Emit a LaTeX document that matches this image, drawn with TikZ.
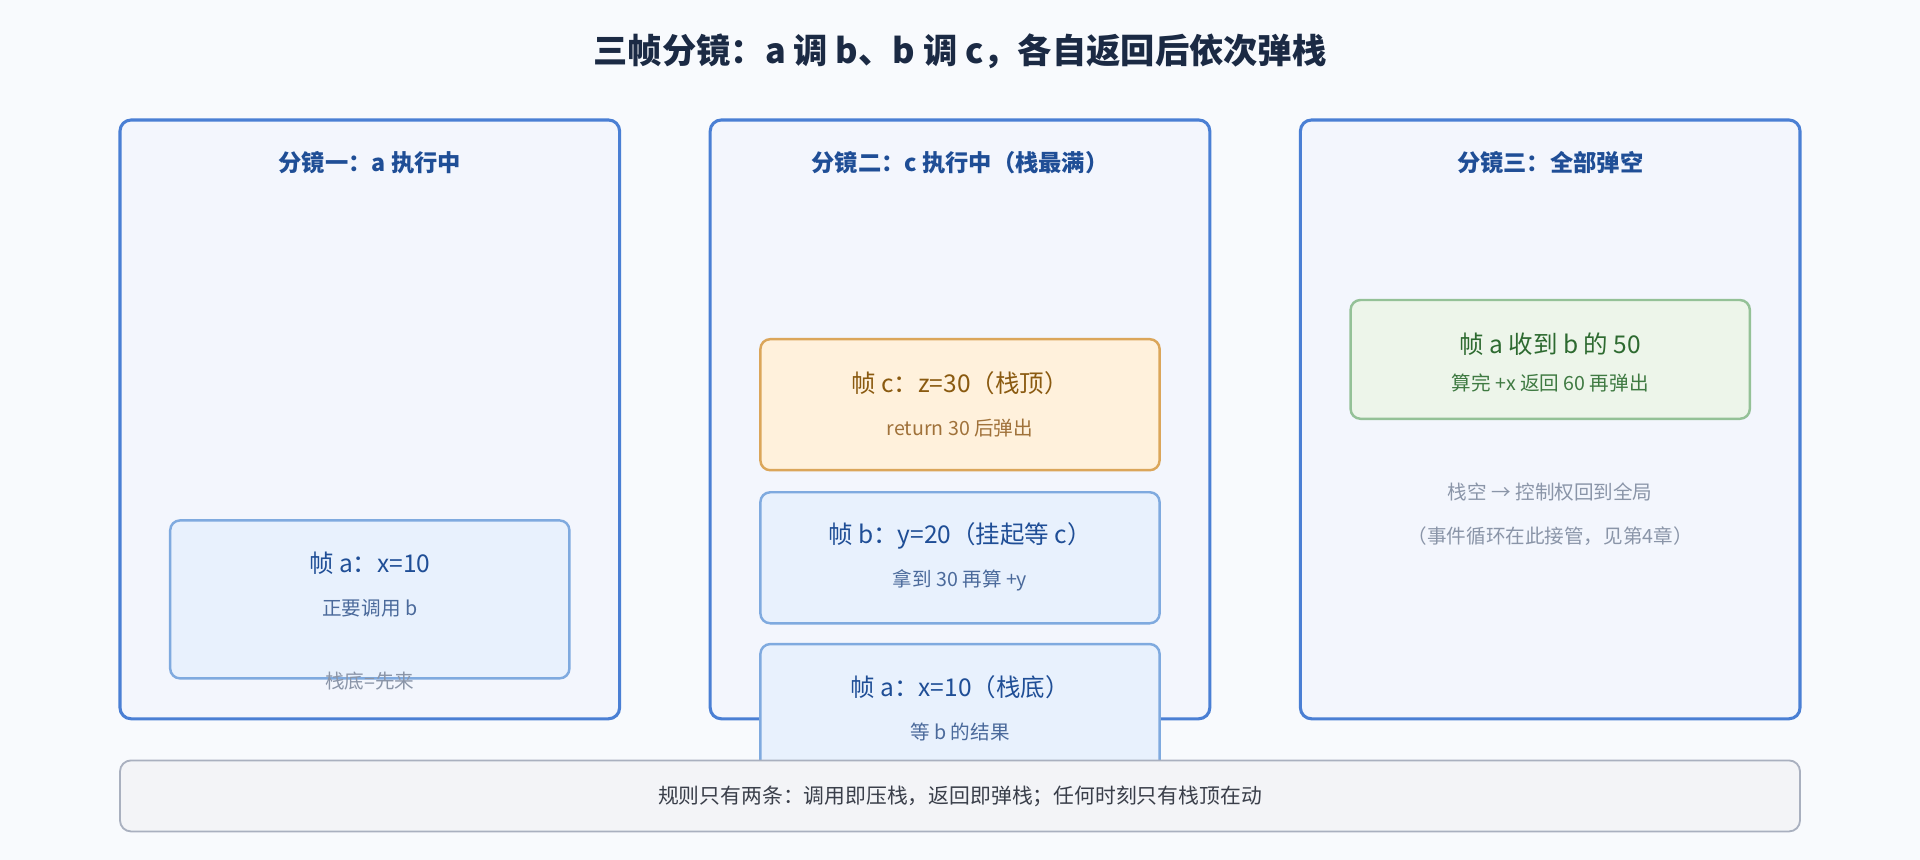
\documentclass[tikz,border=0pt]{standalone}
\usepackage{fontspec}
\setmainfont{Noto Sans CJK SC}
\usetikzlibrary{positioning, calc}
\definecolor{bgcol}{HTML}{F8FAFD}
\definecolor{panelfill}{HTML}{F3F6FD}
\definecolor{paneldraw}{HTML}{4A7FD4}
\definecolor{navy}{HTML}{1F4E96}
\definecolor{titlecol}{HTML}{1B2A44}
\definecolor{framefill}{HTML}{E8F1FD}
\definecolor{framedraw}{HTML}{7FAADF}
\definecolor{subblue}{HTML}{4B6A9B}
\definecolor{topfill}{HTML}{FFF1DC}
\definecolor{topdraw}{HTML}{DBA65A}
\definecolor{topText}{HTML}{8A5A10}
\definecolor{topSub}{HTML}{A0723A}
\definecolor{greenfill}{HTML}{EDF5EA}
\definecolor{greendraw}{HTML}{94C197}
\definecolor{greenText}{HTML}{2D6A30}
\definecolor{greenSub}{HTML}{3F7A42}
\definecolor{graytext}{HTML}{8A95A8}
\definecolor{footfill}{HTML}{F3F4F7}
\definecolor{footdraw}{HTML}{A9B0BF}
\definecolor{foottext}{HTML}{3A3F4A}
\begin{document}
\begin{tikzpicture}[x=1pt, y=-1pt]
				\tikzstyle{panel}=[draw=paneldraw, line width=2.5pt, fill=panelfill, rounded corners=9pt]
				\tikzstyle{frame}=[draw=framedraw, line width=2pt, fill=framefill, rounded corners=8pt]
				\tikzstyle{topframe}=[draw=topdraw, line width=2pt, fill=topfill, rounded corners=8pt]
				\tikzstyle{greenframe}=[draw=greendraw, line width=2pt, fill=greenfill, rounded corners=8pt]
				\tikzstyle{ptitle}=[font=\fontsize{19}{22}\selectfont\bfseries, text=navy]
				\tikzstyle{fmain}=[font=\fontsize{20}{24}\selectfont]
				\tikzstyle{fsub}=[font=\fontsize{16}{19}\selectfont]

				\fill[bgcol] (0,0) rectangle (1568,702);
				\useasboundingbox (0,0) rectangle (1568,702);

				\node (title) at (784,42) [font=\fontsize{28}{32}\selectfont\bfseries, text=titlecol] {三帧分镜：a 调 b、b 调 c，各自返回后依次弹栈};

				% panels
				\draw[panel] (98,98) rectangle (506,587);
				\draw[panel] (580,98) rectangle (988,587);
				\draw[panel] (1062,98) rectangle (1470,587);
				\node (p1title) at (302,133) [ptitle] {分镜一：a 执行中};
				\node (p2title) at (784,133) [ptitle] {分镜二：c 执行中（栈最满）};
				\node (p3title) at (1266,133) [ptitle] {分镜三：全部弹空};

				% panel 1
				\draw[frame] (139,425) rectangle (465,554);
				\node (a1) at (302,460) [fmain, text=navy] {帧 a：x=10};
				\node (a1sub) at (302,497) [fsub, text=subblue] {正要调用 b};
				\node (bottom1) at (302,556) [fsub, text=graytext] {栈底=先来};

				% panel 2
				\draw[topframe] (621,277) rectangle (947,384);
				\node (c2) at (784,313) [fmain, text=topText] {帧 c：z=30（栈顶）};
				\node (c2sub) at (784,350) [fsub, text=topSub] {return 30 后弹出};
				\draw[frame] (621,402) rectangle (947,509);
				\node (b2) at (784,438) [fmain, text=navy] {帧 b：y=20（挂起等 c）};
				\node (b2sub) at (784,474) [fsub, text=subblue] {拿到 30 再算 +y};
				\draw[frame] (621,526) rectangle (947,645);
				\node (a2) at (784,561) [fmain, text=navy] {帧 a：x=10（栈底）};
				\node (a2sub) at (784,598) [fsub, text=subblue] {等 b 的结果};

				% panel 3
				\draw[greenframe] (1103,245) rectangle (1429,342);
				\node (a3) at (1266,281) [fmain, text=greenText] {帧 a 收到 b 的 50};
				\node (a3sub) at (1266,313) [fsub, text=greenSub] {算完 +x 返回 60 再弹出};
				\node (empty3) at (1266,402) [fsub, text=graytext] {栈空 → 控制权回到全局};
				\node (loop3) at (1266,438) [fsub, text=graytext] {（事件循环在此接管，见第4章）};

				% footer
				\draw[draw=footdraw, line width=1.5pt, fill=footfill, rounded corners=9pt] (98,621) rectangle (1470,679);
				\node (rule) at (784,650) [font=\fontsize{17}{20}\selectfont, text=foottext] {规则只有两条：调用即压栈，返回即弹栈；任何时刻只有栈顶在动};
\end{tikzpicture}
\end{document}
